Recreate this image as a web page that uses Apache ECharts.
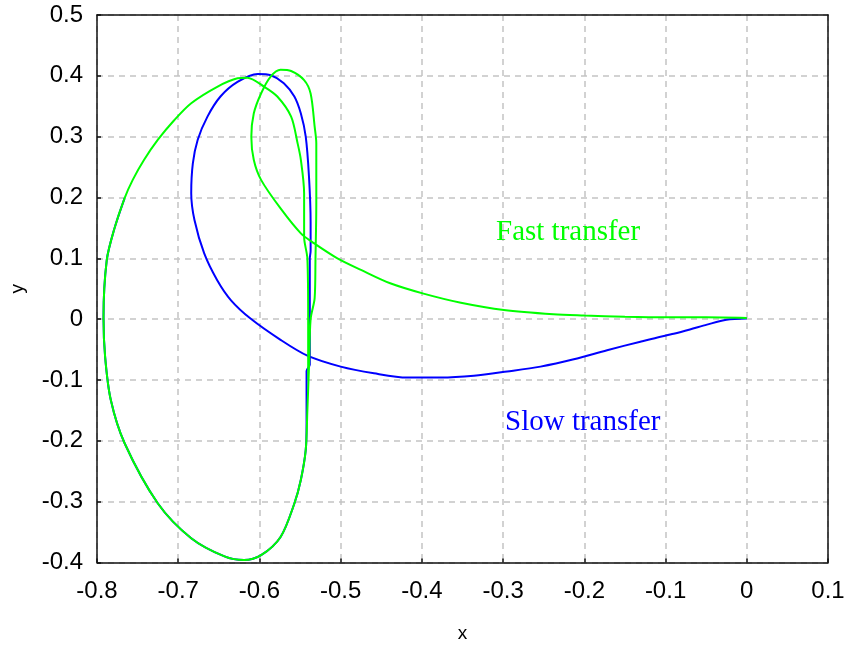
<!DOCTYPE html>
<html>
<head>
<meta charset="utf-8">
<script src="https://cdn.jsdelivr.net/npm/echarts@6/dist/echarts.min.js"></script>
<style>
  html, body { margin: 0; padding: 0; background: #fff; }
  #chart { width: 851px; height: 651px; }
</style>
</head>
<body>
<div id="chart"></div>
<script>
// Axis ranges and tick step
const xRange = [-0.8, 0.1];
const yRange = [-0.4, 0.5];
const tickStep = 0.1;

// Slow transfer trajectory (x, y)
const slowX = [0, -0.025, -0.049, -0.070, -0.090, -0.110, -0.131, -0.172, -0.213, -0.254, -0.295, -0.336, -0.377, -0.418, -0.459, -0.500, -0.541, -0.574,
  -0.611, -0.635, -0.652, -0.668, -0.680, -0.684, -0.682, -0.676, -0.664, -0.648, -0.627, -0.602, -0.586, -0.570, -0.557,
  -0.549, -0.543, -0.539, -0.537, -0.537, -0.538, -0.538, -0.542, -0.542,
  -0.543, -0.549, -0.557, -0.574, -0.598, -0.619, -0.643, -0.684, -0.725, -0.766, -0.783, -0.790, -0.792, -0.788, -0.779, -0.766];
const slowY = [0.001, -0.001, -0.009, -0.017, -0.024, -0.030, -0.037, -0.051, -0.066, -0.078, -0.086, -0.093, -0.096, -0.096, -0.089, -0.078, -0.060, -0.034,
  0.001, 0.031, 0.064, 0.108, 0.163, 0.207, 0.256, 0.295, 0.333, 0.366, 0.390, 0.403, 0.401, 0.388, 0.366,
  0.338, 0.300, 0.234, 0.160, 0.112, 0.100, -0.075, -0.085, -0.174,
  -0.215, -0.264, -0.303, -0.358, -0.388, -0.396, -0.390, -0.360, -0.303, -0.204, -0.133, -0.062, 0.003, 0.097, 0.147, 0.199];

// Fast transfer trajectory (x, y)
const fastX = [0, -0.05, -0.10, -0.15, -0.20, -0.238, -0.299, -0.352, -0.398, -0.439, -0.475, -0.504, -0.533, -0.549, -0.574,
  -0.598, -0.607, -0.610, -0.607, -0.598, -0.586, -0.574, -0.561, -0.545, -0.537, -0.532, -0.530, -0.530, -0.531, -0.532,
  -0.537, -0.539, -0.541, -0.543, -0.549, -0.557, -0.574, -0.598, -0.619, -0.643, -0.684, -0.725, -0.766, -0.783, -0.790,
  -0.792, -0.788, -0.779, -0.766, -0.756, -0.742, -0.725, -0.705, -0.684, -0.652, -0.627, -0.615, -0.594, -0.578, -0.561,
  -0.553, -0.549, -0.545, -0.545, -0.541, -0.540, -0.540];
const fastY = [0.002, 0.003, 0.003, 0.004, 0.006, 0.008, 0.015, 0.027, 0.042, 0.059, 0.081, 0.100, 0.125, 0.141, 0.182,
  0.229, 0.262, 0.300, 0.338, 0.371, 0.399, 0.410, 0.408, 0.393, 0.371, 0.316, 0.289, 0.190, 0.100, 0.035,
  0.000, -0.078, -0.150, -0.215, -0.264, -0.303, -0.358, -0.388, -0.396, -0.390, -0.360, -0.303, -0.204, -0.133, -0.062,
  0.003, 0.097, 0.147, 0.199, 0.229, 0.262, 0.295, 0.327, 0.355, 0.382, 0.396, 0.397, 0.382, 0.366, 0.333,
  0.289, 0.262, 0.207, 0.135, 0.100, 0.000, -0.100];

// Curve annotations
const annotations = [
  { text: 'Fast transfer', color: '#00ff00', x: 496, y: 232 },
  { text: 'Slow transfer', color: '#0000ff', x: 505, y: 422 }
];

const pairs = (xs, ys) => xs.map((x, i) => [x, ys[i]]);
const fmt = v => {
  const r = Math.round(v * 10) / 10;
  return r === 0 ? '0' : String(r);
};

const tickFont = { fontFamily: 'Liberation Sans', fontSize: 24, color: '#000' };
const gridLine = { show: true, lineStyle: { color: '#c4c4c4', type: [6, 5], width: 1.5 } };
const frameLine = { show: true, onZero: false, lineStyle: { color: '#111', width: 1.5 } };
const nameFont = { fontFamily: 'Liberation Sans', fontSize: 19, color: '#000' };

const chart = echarts.init(document.getElementById('chart'), null, { renderer: 'canvas' });
chart.setOption({
  animation: false,
  backgroundColor: '#fff',
  grid: { left: 96, top: 15, right: 23, bottom: 88.5 },
  xAxis: [
    {
      type: 'value', min: xRange[0], max: xRange[1], interval: tickStep,
      name: 'x', nameLocation: 'middle', nameGap: 62, nameTextStyle: nameFont,
      axisLine: frameLine,
      axisTick: { show: true, inside: true, length: 4, lineStyle: { color: '#111', width: 1.5 } },
      axisLabel: Object.assign({ margin: 17, formatter: fmt }, tickFont),
      splitLine: gridLine
    },
    {
      type: 'value', position: 'top', min: xRange[0], max: xRange[1], interval: tickStep,
      axisLine: frameLine, axisTick: { show: false }, axisLabel: { show: false }, splitLine: { show: false }
    }
  ],
  yAxis: [
    {
      type: 'value', min: yRange[0], max: yRange[1], interval: tickStep,
      name: 'y', nameLocation: 'middle', nameGap: 70, nameRotate: 90, nameTextStyle: nameFont,
      axisLine: frameLine,
      axisTick: { show: true, inside: true, length: 4, lineStyle: { color: '#111', width: 1.5 } },
      axisLabel: Object.assign({ margin: 14, formatter: fmt }, tickFont),
      splitLine: gridLine
    },
    {
      type: 'value', position: 'right', min: yRange[0], max: yRange[1], interval: tickStep,
      axisLine: frameLine, axisTick: { show: false }, axisLabel: { show: false }, splitLine: { show: false }
    }
  ],
  series: [
    {
      name: 'Slow transfer', type: 'line', data: pairs(slowX, slowY),
      showSymbol: false, smooth: 0.3, z: 2,
      lineStyle: { color: '#0000ff', width: 2 }
    },
    {
      name: 'Fast transfer', type: 'line', data: pairs(fastX, fastY),
      showSymbol: false, smooth: 0.3, z: 3,
      lineStyle: { color: '#00ff00', width: 2 }
    }
  ],
  graphic: annotations.map(a => ({
    type: 'text', x: a.x, y: a.y, z: 10,
    style: {
      text: a.text, fill: a.color,
      font: '29px "Liberation Serif"',
      textAlign: 'left', textVerticalAlign: 'middle'
    }
  }))
});
</script>
</body>
</html>
